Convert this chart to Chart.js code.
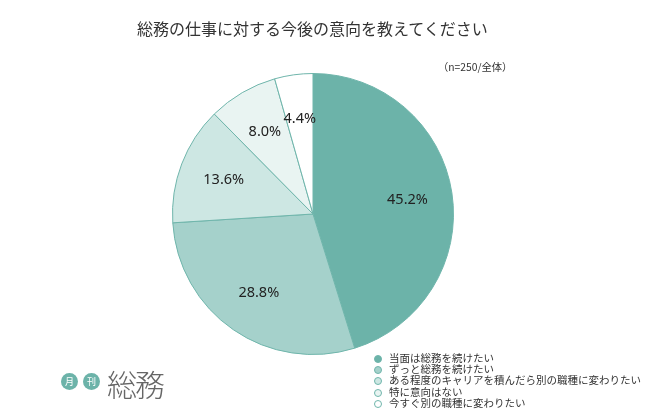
<!DOCTYPE html>
<html>
<head>
<meta charset="utf-8">
<script src="https://cdn.jsdelivr.net/npm/chart.js@4"></script>
<style>
  html, body { margin: 0; padding: 0; background: #fff; }
  #wrap { position: relative; width: 650px; height: 417px; overflow: hidden; font-family: "Noto Sans CJK JP", sans-serif; color: #333; }
  #myChart { position: absolute; left: 0; top: 0; }
  #_title { position: absolute; left: 137px; top: 16px; font-size: 16px; white-space: nowrap; }
  #_note { position: absolute; left: 438px; top: 59px; font-size: 10.3px; white-space: nowrap; }
  #_legend { position: absolute; left: 374px; top: 352px; font-size: 10.5px; line-height: 11.2px; }
  #_legend div { white-space: nowrap; }
  #_legend span { display: inline-block; width: 8px; height: 8px; border-radius: 50%; border: 1px solid #6fb5ab; box-sizing: border-box; margin-right: 7px; vertical-align: -1px; }
  #_logo { position: absolute; left: 61px; top: 362px; }
  ._badge { position: absolute; top: 11px; width: 17px; height: 17px; border-radius: 50%; background: #6cb3a9; color: #fff; font-size: 9px; line-height: 17px; text-align: center; }
  #_big { position: absolute; left: 46px; top: -1px; font-size: 30px; font-weight: 300; color: #666; letter-spacing: -2px; white-space: nowrap; }
</style>
</head>
<body>
<div id="wrap">
  <canvas id="myChart" width="650" height="417"></canvas>
  <div id="_title">総務の仕事に対する今後の意向を教えてください</div>
  <div id="_note">（n=250/全体）</div>
  <div id="_legend"></div>
  <div id="_logo">
    <div class="_badge" style="left:0">月</div>
    <div class="_badge" style="left:22px">刊</div>
    <div id="_big">総務</div>
  </div>
</div>
<script>
const labels = ['当面は総務を続けたい', 'ずっと総務を続けたい', 'ある程度のキャリアを積んだら別の職種に変わりたい', '特に意向はない', '今すぐ別の職種に変わりたい']
const values = [45.2, 28.8, 13.6, 8.0, 4.4]
const colors = ['#6cb3a9', '#a5d1cb', '#cde7e3', '#e9f4f2', '#ffffff']

// legend
let _legend = document.getElementById('_legend')
labels.forEach((l, i) => {
  let d = document.createElement('div')
  d.innerHTML = '<span style="background:' + colors[i] + '"></span>' + l
  _legend.appendChild(d)
})

// percent labels
const pctLabels = {
  id: 'pctLabels',
  afterDatasetsDraw(chart) {
    const c = chart.ctx
    const meta = chart.getDatasetMeta(0)
    c.save()
    c.font = '14.5px "Noto Sans", sans-serif'
    c.fillStyle = '#222'
    c.textAlign = 'center'
    c.textBaseline = 'middle'
    meta.data.forEach((arc, i) => {
      const p = arc.getProps(['x', 'y', 'startAngle', 'endAngle', 'outerRadius'], true)
      const a = (p.startAngle + p.endAngle) / 2
      const r = p.outerRadius * 0.68
      c.fillText(values[i].toFixed(1) + '%', p.x + Math.cos(a) * r, p.y + Math.sin(a) * r)
    })
    c.restore()
  }
}

const ctx = document.getElementById('myChart')
new Chart(ctx, {
  type: 'pie',
  data: {
    labels: labels,
    datasets: [{
      data: values,
      backgroundColor: colors,
      borderColor: '#6fb5ab',
      borderWidth: 1
    }]
  },
  options: {
    responsive: false,
    animation: false,
    layout: { padding: { left: 172, right: 196, top: 73, bottom: 62 } },
    plugins: {
      legend: { display: false },
      tooltip: { enabled: false }
    }
  },
  plugins: [pctLabels]
})
</script>
</body>
</html>
